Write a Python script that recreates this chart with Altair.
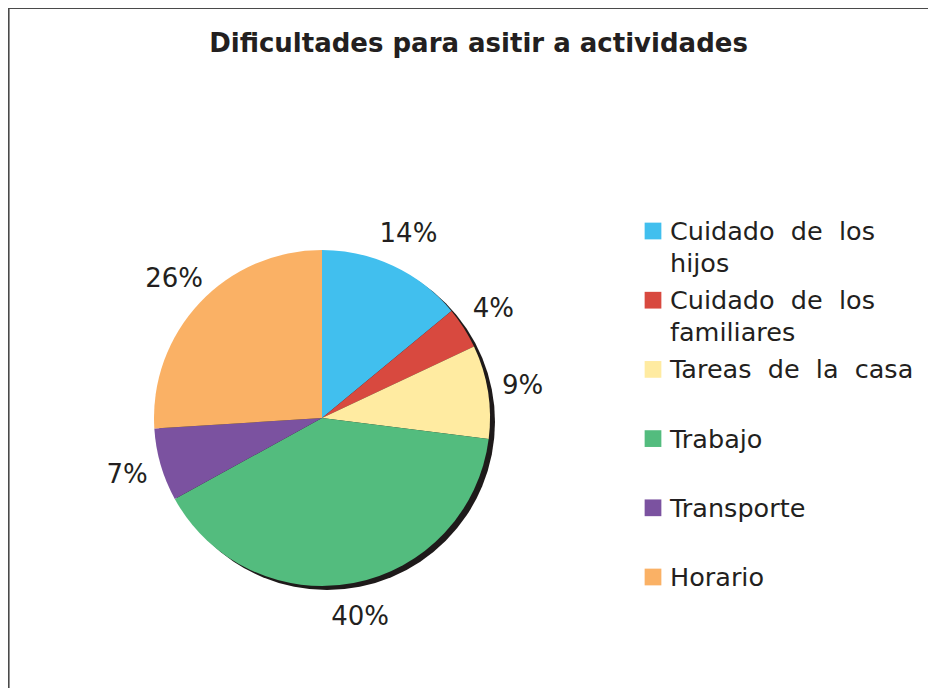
import math
import altair as alt
import pandas as pd

# ---- data ----
categories = ["Cuidado de los hijos", "Cuidado de los familiares", "Tareas de la casa",
              "Trabajo", "Transporte", "Horario"]
legend_lines = ["Cuidado \u00a0de \u00a0los\nhijos", "Cuidado \u00a0de \u00a0los\nfamiliares",
                "Tareas \u00a0de \u00a0la \u00a0casa", "Trabajo", "Transporte", "Horario"]
values = [14, 4, 9, 40, 7, 26]
labels = ["14%", "4%", "9%", "40%", "7%", "26%"]
colors = ["#41BFEE", "#D8493F", "#FFEBA1", "#53BC7E", "#7B52A0", "#FAB165"]
title_text = "Dificultades para asitir a actividades"

FONT = "DejaVu Sans"
TXT = "#231f20"
W, H = 920, 680
CX, CY, R = 314, 410, 168

pie_df = pd.DataFrame({"cat": categories, "value": values, "label": labels,
                       "idx": list(range(len(categories)))})
leg_df = pd.DataFrame({"cat": categories, "text": legend_lines})
one = pd.DataFrame({"a": [0]})

color = alt.Color("cat:N", scale=alt.Scale(domain=categories, range=colors), legend=None)

frame_left = alt.Chart(one).mark_rule(color="#4a4a4a", strokeWidth=1.6).encode(
    x=alt.value(0.8), y=alt.value(0), y2=alt.value(H))
frame_top = alt.Chart(one).mark_rule(color="#4a4a4a", strokeWidth=1.6).encode(
    x=alt.value(0), x2=alt.value(W), y=alt.value(0.3))

title = alt.Chart(one).mark_text(
    text=title_text, font=FONT, fontSize=26, fontWeight="bold", color=TXT,
    align="center", baseline="alphabetic").encode(x=alt.value(470.5), y=alt.value(44))

shadow = alt.Chart(one).mark_arc(outerRadius=R, theta=0, theta2=2 * math.pi,
                                 color="#1e1a1a").encode(
    x=alt.value(CX + 5), y=alt.value(CY + 4))

pie = alt.Chart(pie_df).mark_arc(outerRadius=R).encode(
    theta=alt.Theta("value:Q", stack=True),
    color=color,
    order=alt.Order("idx:Q"),
    x=alt.value(CX), y=alt.value(CY),
)

pie_labels = alt.Chart(pie_df).mark_text(radius=203, font=FONT, fontSize=26, color=TXT).encode(
    theta=alt.Theta("value:Q", stack=True),
    order=alt.Order("idx:Q"),
    text=alt.Text("label:N"),
    x=alt.value(CX), y=alt.value(CY),
)

yscale = alt.Scale(domain=categories, range=[223, 569], padding=0)

leg_sq = alt.Chart(leg_df).mark_square(size=280, opacity=1).encode(
    y=alt.Y("cat:N", scale=yscale, axis=None),
    x=alt.value(645),
    color=color,
)

leg_txt = alt.Chart(leg_df).mark_text(
    align="left", baseline="alphabetic", font=FONT, fontSize=25.5, lineHeight=31.5,
    lineBreak="\n", color=TXT, dy=9).encode(
    y=alt.Y("cat:N", scale=yscale, axis=None),
    x=alt.value(662),
    text=alt.Text("text:N"),
)

chart = alt.layer(frame_left, frame_top, title, shadow, pie, pie_labels, leg_sq, leg_txt).properties(
    width=W, height=H, padding=0, autosize=alt.AutoSizeParams(type="none"),
    background="white",
).configure_view(strokeWidth=0, stroke="transparent")

chart.save("out.html", embed_options={"renderer": "svg", "actions": False})
